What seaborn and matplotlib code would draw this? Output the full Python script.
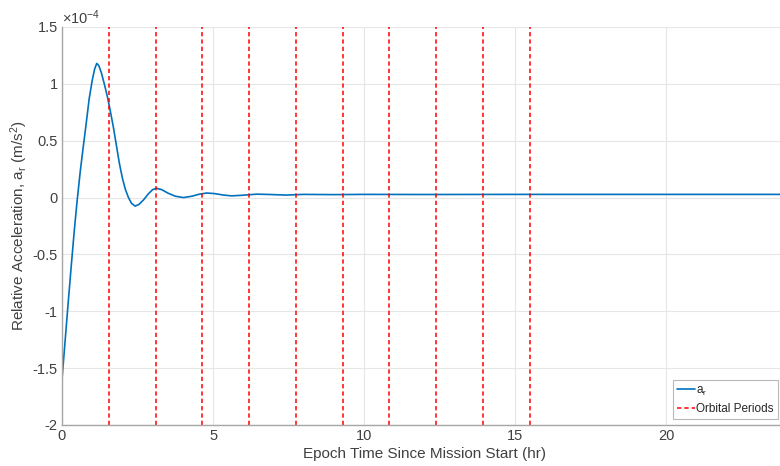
import matplotlib
matplotlib.use("Agg")
import matplotlib.pyplot as plt
import seaborn as sns
import pandas as pd

# ---- data (hours, relative acceleration in units of 1e-4 m/s^2) ----
time_hr = [0.0, 0.1, 0.2, 0.3, 0.4, 0.5, 0.6, 0.7, 0.8, 0.9, 1.0, 1.08, 1.15,
           1.22, 1.3, 1.4, 1.5, 1.6, 1.7, 1.8, 1.9, 2.0, 2.1, 2.2, 2.3, 2.42,
           2.55, 2.7, 2.85, 3.0, 3.13, 3.3, 3.5, 3.75, 4.02, 4.3, 4.55, 4.79,
           5.05, 5.35, 5.62, 5.95, 6.45, 6.9, 7.4, 8.0, 9.0, 10.0, 12.0, 15.0,
           18.0, 21.0, 24.0]
accel_e4 = [-1.60, -1.27, -0.94, -0.62, -0.31, -0.03, 0.22, 0.44, 0.65, 0.87,
            1.03, 1.13, 1.18, 1.16, 1.10, 1.00, 0.89, 0.76, 0.62, 0.46, 0.30,
            0.17, 0.07, 0.00, -0.05, -0.075, -0.06, -0.02, 0.03, 0.07, 0.081,
            0.07, 0.04, 0.012, 0.0, 0.012, 0.03, 0.04, 0.035, 0.022, 0.015,
            0.02, 0.03, 0.027, 0.022, 0.028, 0.026, 0.028, 0.027, 0.028,
            0.028, 0.028, 0.028]
orbital_periods_hr = [1.548, 3.096, 4.644, 6.192, 7.740, 9.288, 10.836,
                      12.384, 13.932, 15.480]
x_ticks = [0, 5, 10, 15, 20]
y_ticks = [-2, -1.5, -1, -0.5, 0, 0.5, 1, 1.5]
y_tick_labels = ["-2", "-1.5", "-1", "-0.5", "0", "0.5", "1", "1.5"]

df = pd.DataFrame({"t": time_hr, "a": accel_e4})

sns.set_style("white")
plt.rcParams["font.family"] = ["Liberation Sans", "DejaVu Sans"]
plt.rcParams["mathtext.fontset"] = "custom"
plt.rcParams["mathtext.rm"] = "Liberation Sans"
plt.rcParams["mathtext.it"] = "Liberation Sans"

W, H = 780, 466
fig = plt.figure(figsize=(W / 100, H / 100), dpi=100)
L, R, T, B = 62, 787, 27, 425
ax = fig.add_axes([L / W, 1 - B / H, (R - L) / W, (B - T) / H])

sns.lineplot(data=df, x="t", y="a", ax=ax, color="#0072BD", linewidth=1.2,
             label="a$_\\mathregular{r}$")
for i, p in enumerate(orbital_periods_hr):
    ax.axvline(p, color="#FF0000", linewidth=1.1, linestyle=(0, (2.8, 2.0)),
               label="Orbital Periods" if i == 0 else None)

ax.set_xlim(0, 24)
ax.set_ylim(-2, 1.5)
ax.set_xticks(x_ticks)
ax.set_xticklabels([str(v) for v in x_ticks])
ax.set_yticks(y_ticks)
ax.set_yticklabels(y_tick_labels)

ax.grid(True, color="#E6E6E6", linewidth=0.8)
ax.set_axisbelow(True)
for s in ["left", "bottom"]:
    ax.spines[s].set_color("#A6A6A6")
    ax.spines[s].set_linewidth(1.0)
for s in ["top", "right"]:
    ax.spines[s].set_visible(False)
ax.tick_params(axis="both", direction="in", length=3, width=0.8,
               color="#A6A6A6", labelcolor="#404040", labelsize=10.5, pad=3)

ax.set_xlabel("Epoch Time Since Mission Start (hr)", fontsize=11,
              color="#404040", labelpad=3)
ax.set_ylabel("Relative Acceleration, a$_\\mathregular{r}$ (m/s$^\\mathregular{2}$)",
              fontsize=11, color="#404040", labelpad=2)

ax.text(0.0, 1.0, "$\\times\\mathregular{10^{-4}}$", transform=ax.transAxes,
        ha="left", va="bottom", fontsize=10.5, color="#404040")

leg = ax.legend(loc="lower right", bbox_to_anchor=(778 / W, 1 - 419 / H),
                bbox_transform=fig.transFigure, fontsize=8.5, frameon=True,
                fancybox=False, handlelength=1.5, handletextpad=0.1,
                borderpad=0.35, labelspacing=0.45, borderaxespad=0)
leg.get_frame().set_edgecolor("#A6A6A6")
leg.get_frame().set_linewidth(0.8)
for t in leg.get_texts():
    t.set_color("#262626")

fig.savefig("out.png", dpi=100)
